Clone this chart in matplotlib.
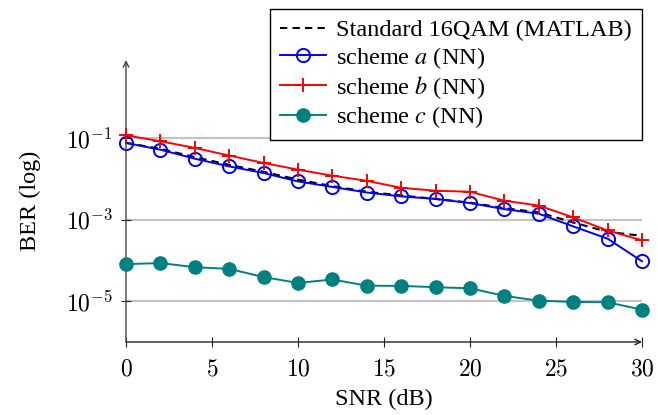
import matplotlib
matplotlib.use("Agg")
import matplotlib.pyplot as plt
from matplotlib.ticker import NullLocator

# SNR grid (dB)
snr = [0, 2, 4, 6, 8, 10, 12, 14, 16, 18, 20, 22, 24, 26, 28, 30]

# BER values
ber_matlab = [0.076, 0.054, 0.034, 0.022, 0.0148, 0.0095, 0.0066, 0.0048,
              0.0039, 0.0032, 0.0026, 0.0019, 0.0015, 0.00085, 0.0005, 0.0004]
ber_a = [0.0753, 0.0516, 0.031, 0.0201, 0.0138, 0.0086, 0.0063, 0.0046,
         0.0037, 0.0032, 0.00254, 0.0018, 0.00139, 0.00068, 0.00034, 0.000095]
ber_b = [0.116, 0.083, 0.057, 0.037, 0.0244, 0.0167, 0.0119, 0.0089,
         0.006, 0.0051, 0.0048, 0.0029, 0.0022, 0.00113, 0.00054, 0.00031]
ber_c = [8.1e-5, 8.6e-5, 6.8e-5, 6.2e-5, 3.9e-5, 2.8e-5, 3.4e-5, 2.4e-5,
         2.37e-5, 2.2e-5, 2.07e-5, 1.35e-5, 1.03e-5, 9.6e-6, 9.4e-6, 6.2e-6]

x_ticks = [0, 5, 10, 15, 20, 25, 30]
y_ticks = [1e-5, 1e-3, 1e-1]
y_tick_labels = ["$10^{-5}$", "$10^{-3}$", "$10^{-1}$"]

labels = ["Standard 16QAM (MATLAB)", "scheme $a$ (NN)",
          "scheme $b$ (NN)", "scheme $c$ (NN)"]

plt.rcParams["font.family"] = "Liberation Serif"
plt.rcParams["mathtext.fontset"] = "cm"

fig = plt.figure(figsize=(6.58, 4.15), dpi=100)
ax = fig.add_axes([126 / 658, 73 / 415, 516 / 658, 282 / 415])

ax.plot(snr, ber_matlab, color="black", ls=(0, (3.5, 2.5)), lw=1.5,
        label=labels[0], clip_on=False, zorder=3)
ax.plot(snr, ber_a, color="blue", lw=1.4, marker="o", ms=9.5, mfc="none",
        mew=1.4, label=labels[1], clip_on=False, zorder=3)
ax.plot(snr, ber_b, color="red", lw=1.4, marker="+", ms=10, mew=1.4,
        label=labels[2], clip_on=False, zorder=4)
ax.plot(snr, ber_c, color="teal", lw=1.4, marker="o", ms=9.5,
        label=labels[3], clip_on=False, zorder=5)

ax.set_yscale("log")
ax.set_xlim(0, 30)
ax.set_ylim(1e-6, 10 ** 0.91)
ax.set_xticks(x_ticks, ["$%d$" % t for t in x_ticks])
ax.set_yticks(y_ticks, y_tick_labels)
ax.yaxis.set_minor_locator(NullLocator())

ax.grid(axis="y", color="#c4c4c4", lw=1.6)
ax.set_axisbelow(True)

for s in ax.spines.values():
    s.set_visible(False)
ax.annotate("", xy=(1, 0), xytext=(0, 0), xycoords="axes fraction",
            arrowprops=dict(arrowstyle="->", color="#222222", lw=1.0,
                            shrinkA=0, shrinkB=0))
ax.annotate("", xy=(0, 1), xytext=(0, 0), xycoords="axes fraction",
            arrowprops=dict(arrowstyle="->", color="#444444", lw=1.0,
                            shrinkA=0, shrinkB=0))

ax.tick_params(direction="inout", length=7, width=0.8, color="#222222",
               labelsize=17)
ax.tick_params(axis="x", pad=9)
ax.tick_params(axis="y", pad=6)
for lab in ax.get_xticklabels() + ax.get_yticklabels():
    lab.set_math_fontfamily("cm")

ax.set_xlabel("SNR (dB)", fontsize=17.5, labelpad=6)
ax.set_ylabel("BER (log)", fontsize=17.5, labelpad=18)

leg = ax.legend(loc="upper right", bbox_to_anchor=(642 / 658, 406 / 415),
                bbox_transform=fig.transFigure, fontsize=17.5, fancybox=False,
                edgecolor="black", framealpha=1, borderaxespad=0,
                handlelength=1.9, handletextpad=0.4, labelspacing=0.14,
                borderpad=0.42)
leg.get_frame().set_linewidth(1.0)
for t in leg.get_texts():
    t.set_math_fontfamily("stix")

fig.savefig("out.png", dpi=100)
plt.close(fig)
